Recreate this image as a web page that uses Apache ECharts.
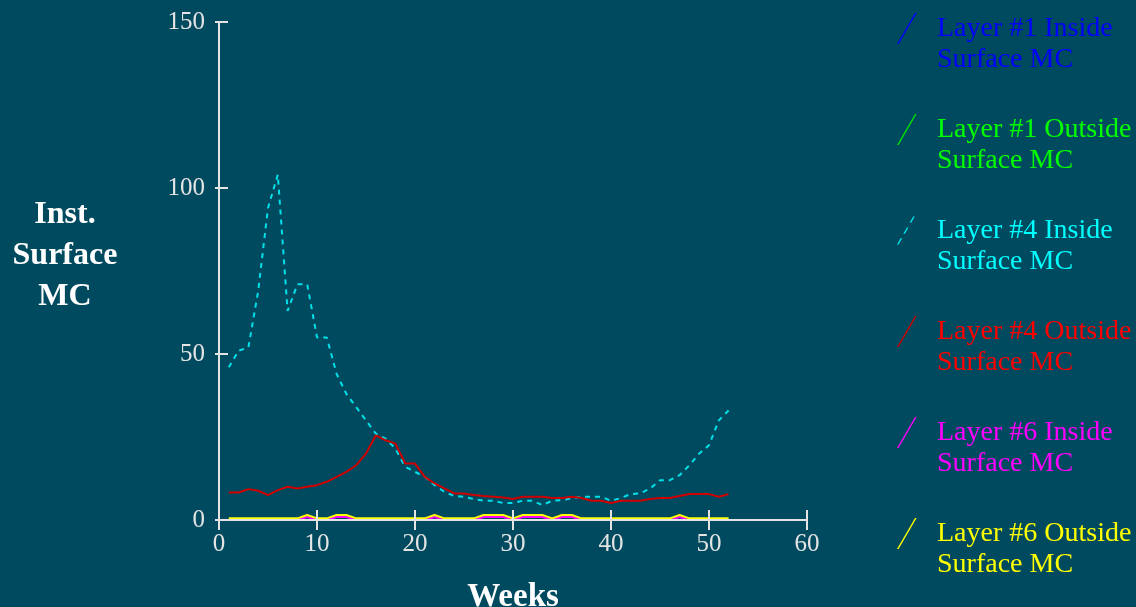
<!DOCTYPE html>
<html>
<head>
<meta charset="utf-8">
<script src="https://cdn.jsdelivr.net/npm/echarts@6/dist/echarts.min.js"></script>
<style>
  html, body { margin: 0; padding: 0; background: #004a60; }
  #main { width: 1136px; height: 607px; }
</style>
</head>
<body>
<div id="main"></div>
<script>
// weekly moisture content readings
let weeks = [1,2,3,4,5,6,7,8,9,10,11,12,13,14,15,16,17,18,19,20,21,22,23,24,25,26,
             27,28,29,30,31,32,33,34,35,36,37,38,39,40,41,42,43,44,45,46,47,48,49,50,51,52];

let layer1Inside = [0,0,0,0,0,0,0,0,0,0,0,0,0,0,0,0,0,0,0,0,0,0,0,0,0,0,
                    0,0,0,0,0,0,0,0,0,0,0,0,0,0,0,0,0,0,0,0,0,0,0,0,0,0];
let layer1Outside = [0,0,0,0,0,0,0,0,0,0,0,0,0,0,0,0,0,0,0,0,0,0,0,0,0,0,
                     0,0,0,0,0,0,0,0,0,0,0,0,0,0,0,0,0,0,0,0,0,0,0,0,0,0];
let layer4Inside = [46,51,52,69,94,104,63,71,71,55,55,44,38,34,30,26,24.5,21.5,16,14.5,
                    13,10.5,8.5,7.2,7,6.3,5.8,5.8,5.1,5.1,5.8,5.8,4.5,5.8,6,6.6,7,7,7,5.8,
                    6.6,7.8,8,9.5,12,12,13.5,16.5,20,22.5,30,33];
let layer4Outside = [8.3,8.3,9.3,8.8,7.5,9,10,9.5,10,10.5,11.5,13,14.5,16.5,20,25.5,24,23,17,17,
                     13,11,9.5,8,8,7.5,7.2,7,6.8,6.3,7,7,7,6.6,6.6,7,6.6,5.8,5.8,5.1,
                     5.8,5.8,5.8,6.3,6.6,6.6,7.2,7.8,7.8,7.8,7,7.8];
let layer6Inside = [0,0,0,0,0,0,0,0,0.9,0,0,0.9,0.9,0,0,0,0,0,0,0,0,0.9,0,0,0,0,
                    0.9,0.9,0.9,0,0.9,0.9,0.9,0,0.9,0.9,0,0,0,0,0,0,0,0,0,0,0.9,0,0,0,0,0];
let layer6Outside = [0.5,0.5,0.5,0.5,0.5,0.5,0.5,0.5,1.5,0.5,0.5,1.5,1.5,0.5,0.5,0.5,0.5,0.5,0.5,0.5,0.5,1.5,0.5,0.5,0.5,0.5,
                     1.5,1.5,1.5,0.5,1.5,1.5,1.5,0.5,1.5,1.5,0.5,0.5,0.5,0.5,0.5,0.5,0.5,0.5,0.5,0.5,1.5,0.5,0.5,0.5,0.5,0.5];

let yTicks = [0, 50, 100, 150];
let xTicks = [0, 10, 20, 30, 40, 50, 60];

function pairs(vals) {
    return weeks.map(function (w, i) { return [w, vals[i]]; });
}

let serif = "'Liberation Serif', 'Times New Roman', serif";
let axisColor = '#e4e4e4';

// slash legend icons, bbox padded so the slash sits beside the first text line
let pad = ' M0,62L0.1,62L0,61.9Z M38,62L38,61.9L37.9,62Z';
let slash = 'path://M3,31L21,0L22.6,0L4.6,31Z' + pad;
let slashDash = 'path://M3,31L6.6,24.8L8.2,24.8L4.6,31Z M9.3,20.2L12.9,14L14.5,14L10.9,20.2Z ' +
                'M15.6,9.3L19.2,3.1L20.8,3.1L17.2,9.3Z' + pad;

let names = ['Layer #1 Inside\nSurface MC', 'Layer #1 Outside\nSurface MC',
             'Layer #4 Inside\nSurface MC', 'Layer #4 Outside\nSurface MC',
             'Layer #6 Inside\nSurface MC', 'Layer #6 Outside\nSurface MC'];
let textColors = ['#0000ff', '#00ff00', '#00ffff', '#ff0000', '#ff00ff', '#ffff00'];
let icons = [slash, slash, slashDash, slash, slash, slash];

let nameStyle = { color: '#ffffff', fontFamily: serif, fontSize: 32, fontWeight: 'bold', lineHeight: 41 };

let myChart = echarts.init(document.getElementById('main'));
let option = {
    backgroundColor: '#004a60',
    animation: false,
    color: ['#0000ff', '#00e000', '#00e0e8', '#d00000', '#ff00ff', '#ffff00'],
    legend: {
        orient: 'vertical',
        left: 889,
        top: 8,
        itemWidth: 38,
        itemHeight: 62,
        itemGap: 39,
        selectedMode: false,
        data: names.map(function (n, i) {
            return { name: n, icon: icons[i], textStyle: { color: textColors[i] } };
        }),
        textStyle: { fontFamily: serif, fontSize: 28, lineHeight: 31 }
    },
    grid: [
        { left: 219, right: 329, top: 22, bottom: 87, outerBoundsMode: 'none' },
        { left: 219, right: 329, top: 22, bottom: 87, outerBoundsMode: 'none' }
    ],
    xAxis: [
        {
            type: 'value', gridIndex: 0, min: 0, max: 60, interval: 10, z: 5,
            name: 'Weeks', nameLocation: 'middle', nameGap: 61,
            nameTextStyle: { color: '#ffffff', fontFamily: serif, fontSize: 33, fontWeight: 'bold' },
            splitLine: { show: false },
            axisLine: { lineStyle: { color: axisColor, width: 2 } },
            axisTick: { inside: true, length: 10, lineStyle: { color: axisColor, width: 2 } },
            axisLabel: {
                color: axisColor, fontFamily: serif, fontSize: 25, margin: 12,
                formatter: function (v) { return xTicks.indexOf(v) >= 0 ? String(v) : ''; }
            }
        },
        {
            type: 'value', gridIndex: 1, min: 0, max: 60, interval: 10,
            splitLine: { show: false },
            axisLine: { show: false },
            axisTick: { inside: false, length: 10, lineStyle: { color: axisColor, width: 2 } },
            axisLabel: { show: false }
        }
    ],
    yAxis: [
        {
            type: 'value', gridIndex: 0, min: 0, max: 150, interval: 50,
            name: '{a|Inst.}\n{a|Surface}\n{a|MC}\n{b| }', nameLocation: 'middle', nameRotate: 0, nameGap: 154,
            nameTextStyle: {
                align: 'center', verticalAlign: 'middle',
                rich: { a: nameStyle, b: { fontSize: 10, lineHeight: 30 } }
            },
            splitLine: { show: false },
            axisLine: { lineStyle: { color: axisColor, width: 2 } },
            axisTick: { inside: true, length: 9, lineStyle: { color: axisColor, width: 2 } },
            axisLabel: {
                color: axisColor, fontFamily: serif, fontSize: 25, margin: 14,
                formatter: function (v) { return yTicks.indexOf(v) >= 0 ? String(v) : ''; }
            }
        },
        {
            type: 'value', gridIndex: 1, min: 0, max: 150, interval: 50,
            splitLine: { show: false },
            axisLine: { show: false },
            axisTick: { inside: false, length: 4, lineStyle: { color: axisColor, width: 2 } },
            axisLabel: { show: false }
        }
    ],
    series: [
        { name: names[0], type: 'line', data: pairs(layer1Inside), showSymbol: false,
          lineStyle: { width: 2, color: '#0000ff' } },
        { name: names[1], type: 'line', data: pairs(layer1Outside), showSymbol: false,
          lineStyle: { width: 2, color: '#00e000' } },
        { name: names[2], type: 'line', data: pairs(layer4Inside), showSymbol: false,
          lineStyle: { width: 2, color: '#00e0e8', type: [5, 5] } },
        { name: names[3], type: 'line', data: pairs(layer4Outside), showSymbol: false,
          lineStyle: { width: 2, color: '#d00000' } },
        { name: names[4], type: 'line', data: pairs(layer6Inside), showSymbol: false,
          lineStyle: { width: 2, color: '#ff00ff' } },
        { name: names[5], type: 'line', data: pairs(layer6Outside), showSymbol: false,
          lineStyle: { width: 2, color: '#ffff00' } }
    ]
};
myChart.setOption(option);
</script>
</body>
</html>
